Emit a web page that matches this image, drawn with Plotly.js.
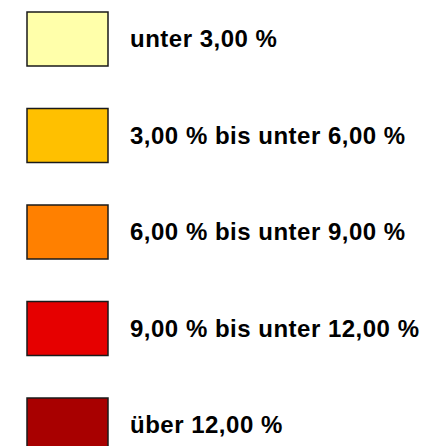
<!DOCTYPE html>
<html>
<head>
<meta charset="utf-8">
<script src="https://cdn.plot.ly/plotly-3.0.1.min.js"></script>
<style>
html,body{margin:0;padding:0;background:#fff;}
#chart{width:423px;height:446px;}
.annotation-text{letter-spacing:0.5px;}
</style>
</head>
<body>
<div id="chart"></div>
<script>
// Legend classes (categories), their colours and labels
const classes = [0, 1, 2, 3, 4];
const labels = [
  "unter 3,00 %",
  "3,00 % bis unter 6,00 %",
  "6,00 % bis unter 9,00 %",
  "9,00 % bis unter 12,00 %",
  "über 12,00 %"
];
const colors = ["#FFFFAA", "#FFC000", "#FF8000", "#E60000", "#A80000"];
const swatchValue = [1, 1, 1, 1, 1];

const barTrace = {
  type: "bar",
  orientation: "h",
  y: classes,
  x: swatchValue,
  base: 0,
  width: 0.56,
  marker: {color: colors, line: {color: "#1a1a1a", width: 1.5}},
  hoverinfo: "skip"
};

const annotations = classes.map((c, i) => ({
  x: 1.25, y: c, xref: "x", yref: "y",
  text: "<b>" + labels[i] + "</b>", showarrow: false,
  xanchor: "left", yanchor: "middle",
  font: {family: "Liberation Sans", size: 24, color: "#000"}
}));

const layout = {
  width: 423, height: 446,
  margin: {l: 0, r: 0, t: 0, b: 0, pad: 0},
  paper_bgcolor: "#fff", plot_bgcolor: "#fff",
  showlegend: false,
  xaxis: {range: [-0.3333, 4.889], visible: false, fixedrange: true},
  yaxis: {range: [4.218, -0.404], visible: false, fixedrange: true},
  annotations: annotations,
  bargap: 0
};

Plotly.newPlot("chart", [barTrace], layout, {staticPlot: true, displayModeBar: false});
</script>
</body>
</html>
